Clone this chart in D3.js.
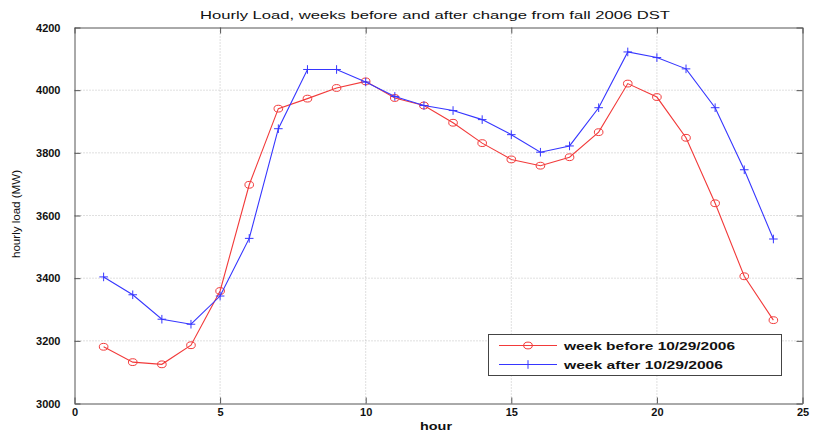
<!DOCTYPE html>
<html>
<head>
<meta charset="utf-8">
<script src="https://cdn.jsdelivr.net/npm/d3@7"></script>
<style>
  html, body { margin: 0; padding: 0; background: #fff; }
  svg { display: block; }
  text { font-family: "Liberation Sans", Arial, Helvetica, sans-serif; fill: #111; }
</style>
</head>
<body>
<svg id="chart" width="813" height="438"></svg>
<script>
// Hourly load (MW) for the week before and after the fall 2006 DST change
const hours = d3.range(1, 25);
const weekBefore = [3181, 3132, 3125, 3186, 3359, 3698, 3941, 3973, 4007, 4028, 3975, 3951,
                    3896, 3831, 3779, 3759, 3786, 3866, 4021, 3978, 3848, 3639, 3406, 3266];
const weekAfter  = [3404, 3347, 3269, 3253, 3343, 3527, 3877, 4066, 4066, 4026, 3980, 3951,
                    3935, 3906, 3858, 3802, 3822, 3944, 4122, 4104, 4068, 3944, 3746, 3525];
const xTicks = [0, 5, 10, 15, 20, 25];
const yTicks = [3000, 3200, 3400, 3600, 3800, 4000, 4200];
const seriesNames = ["week before 10/29/2006", "week after 10/29/2006"];

const svg = d3.select("#chart");
const plotLeft = 74.5, plotRight = 802.5, plotTop = 27.5, plotBottom = 403.5;

const x = d3.scaleLinear().domain([0, 25]).range([plotLeft, plotRight]);
const y = d3.scaleLinear().domain([3000, 4200]).range([plotBottom, plotTop]);

const redC = "#f23a3a", blueC = "#3636ff";

// dotted grid
const grid = svg.append("g").attr("stroke", "#b0b0b0").attr("stroke-width", 0.8)
  .attr("stroke-dasharray", "1,2");
xTicks.slice(1, -1).forEach(t => grid.append("line")
  .attr("x1", x(t)).attr("x2", x(t)).attr("y1", plotTop).attr("y2", plotBottom));
yTicks.slice(1, -1).forEach(t => grid.append("line")
  .attr("x1", plotLeft).attr("x2", plotRight).attr("y1", y(t)).attr("y2", y(t)));

// axes with inward ticks
const tickLen = 6;
const axB = svg.append("g").attr("transform", `translate(0,${plotBottom})`)
  .call(d3.axisBottom(x).tickValues(xTicks).tickSizeInner(-tickLen).tickSizeOuter(0).tickPadding(5));
const axT = svg.append("g").attr("transform", `translate(0,${plotTop})`)
  .call(d3.axisTop(x).tickValues(xTicks).tickSizeInner(-tickLen).tickSizeOuter(0).tickFormat(""));
const axL = svg.append("g").attr("transform", `translate(${plotLeft},0)`)
  .call(d3.axisLeft(y).tickValues(yTicks).tickFormat(d3.format("d"))
    .tickSizeInner(-tickLen).tickSizeOuter(0).tickPadding(14));
const axR = svg.append("g").attr("transform", `translate(${plotRight},0)`)
  .call(d3.axisRight(y).tickValues(yTicks).tickSizeInner(-tickLen).tickSizeOuter(0).tickFormat(""));
[axB, axT, axL, axR].forEach(a => {
  a.select(".domain").attr("stroke", "#555").attr("stroke-width", 1);
  a.selectAll(".tick line").attr("stroke", "#555");
  a.selectAll("text").attr("font-size", 11).attr("font-weight", "bold")
    .attr("font-family", "'Liberation Sans', Arial, sans-serif").attr("fill", "#222");
});

const line = d3.line().x((d, i) => x(hours[i])).y(d => y(d));

// week before: red with circles
svg.append("path").datum(weekBefore).attr("d", line)
  .attr("fill", "none").attr("stroke", redC).attr("stroke-width", 1.1);
svg.append("g").selectAll("ellipse").data(weekBefore).join("ellipse")
  .attr("cx", (d, i) => x(hours[i])).attr("cy", d => y(d))
  .attr("rx", 4.3).attr("ry", 3.4)
  .attr("fill", "none").attr("stroke", redC).attr("stroke-width", 1);

// week after: blue with plus markers
svg.append("path").datum(weekAfter).attr("d", line)
  .attr("fill", "none").attr("stroke", blueC).attr("stroke-width", 1.1);
const plus = svg.append("g").attr("stroke", blueC).attr("stroke-width", 1);
weekAfter.forEach((d, i) => {
  const cx = x(hours[i]), cy = y(d);
  plus.append("line").attr("x1", cx - 4.3).attr("x2", cx + 4.3).attr("y1", cy).attr("y2", cy);
  plus.append("line").attr("x1", cx).attr("x2", cx).attr("y1", cy - 4.3).attr("y2", cy + 4.3);
});

// title and axis labels
svg.append("text").attr("x", 200).attr("y", 19)
  .attr("font-size", 11.5).attr("fill", "#1a1a1a")
  .attr("textLength", 470).attr("lengthAdjust", "spacingAndGlyphs")
  .text("Hourly Load, weeks before and after change from fall 2006 DST");
svg.append("text").attr("x", 420).attr("y", 430)
  .attr("font-size", 11).attr("font-weight", "bold").attr("fill", "#2a2a2a")
  .attr("textLength", 32).attr("lengthAdjust", "spacingAndGlyphs").text("hour");
svg.append("text").attr("transform", "translate(20,258) rotate(-90)")
  .attr("font-size", 11).attr("fill", "#2a2a2a")
  .attr("textLength", 88).attr("lengthAdjust", "spacingAndGlyphs").text("hourly load (MW)");

// legend
const lg = svg.append("g");
lg.append("rect").attr("x", 488.5).attr("y", 334.5).attr("width", 293).attr("height", 41)
  .attr("fill", "#fff").attr("stroke", "#444").attr("stroke-width", 1);
const rows = [
  { name: seriesNames[0], color: redC, yy: 345.5, marker: "circle", w: 171 },
  { name: seriesNames[1], color: blueC, yy: 364.5, marker: "plus", w: 159 }
];
rows.forEach(r => {
  lg.append("line").attr("x1", 499).attr("x2", 557).attr("y1", r.yy).attr("y2", r.yy)
    .attr("stroke", r.color).attr("stroke-width", 1.1);
  if (r.marker === "circle") {
    lg.append("ellipse").attr("cx", 528).attr("cy", r.yy).attr("rx", 4.3).attr("ry", 3.4)
      .attr("fill", "none").attr("stroke", r.color);
  } else {
    lg.append("line").attr("x1", 528).attr("x2", 528).attr("y1", r.yy - 4.3).attr("y2", r.yy + 4.3)
      .attr("stroke", r.color);
  }
  lg.append("text").attr("x", 564).attr("y", r.yy + 4).attr("font-size", 11.5)
    .attr("font-weight", "bold").attr("fill", "#222")
    .attr("textLength", r.w).attr("lengthAdjust", "spacingAndGlyphs").text(r.name);
});
</script>
</body>
</html>
